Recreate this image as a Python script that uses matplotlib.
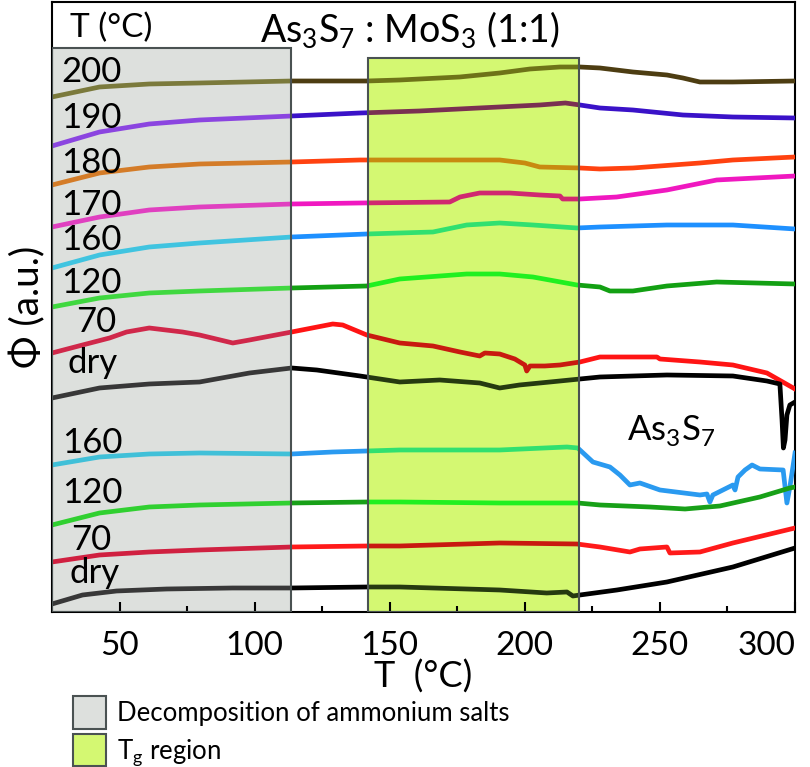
import numpy as np
import matplotlib.pyplot as plt
from matplotlib.patches import Rectangle, Patch

plt.rcParams['font.family'] = ['Lato', 'DejaVu Sans']
plt.rcParams['mathtext.fontset'] = 'custom'
plt.rcParams['mathtext.rm'] = 'Lato'

# temperature ranges of the shaded regions (°C)
decomp_range = [25, 113.6]
tg_range = [142, 220]

# As3S7 : MoS3 (1:1), heat flow (a.u., offset curves)
mo200_t = [25, 42.6, 61, 79.6, 113.7, 141.5, 153.7, 175.9, 190.7, 201.9, 213, 220.4, 227.8, 240, 252.6, 258.5, 264.8, 277, 300]
mo200_phi = [515, 525, 528, 529, 531, 531, 532, 535, 539, 543, 545, 545, 544, 540, 537, 534, 530, 530, 531]
mo190_t = [25, 42.6, 61, 79.6, 113.7, 139, 161, 183, 205.5, 215, 220.4, 227.8, 240, 258.5, 277, 300]
mo190_phi = [466, 480, 488, 492, 496, 499, 501, 504, 507, 509, 507, 504, 502, 497, 495, 494]
mo180_t = [25, 42.6, 61, 79.6, 113.7, 139, 190.7, 200, 205.5, 220.4, 227.8, 240, 264.8, 277, 300]
mo180_phi = [427, 439, 445, 448, 450, 452, 452, 449, 445, 444, 443, 444, 449, 452, 455]
mo170_t = [25, 42.6, 61, 79.6, 113.7, 139, 172.2, 176, 183.3, 194.4, 205.5, 213, 214, 220.4, 234, 252.6, 271, 300]
mo170_phi = [385, 395, 402, 405, 408, 409, 410, 415, 419, 419, 417, 416, 413, 413, 415, 422, 432, 436]
mo160_t = [25, 42.6, 61, 79.6, 113.7, 141.5, 153.7, 166, 178.5, 190.7, 203, 219.3, 227.8, 252.6, 277, 300]
mo160_phi = [344, 357, 365, 369, 375, 378, 379, 380, 387, 389, 387, 384, 385, 387, 387, 383]
mo120_t = [25, 42.6, 61, 79.6, 113.7, 141.5, 153.7, 178.5, 190.7, 203, 219.3, 227.8, 231.5, 240, 252.6, 271, 300]
mo120_phi = [305, 314, 319, 321, 324, 326, 333, 338, 338, 335, 327, 325, 321, 321, 326, 330, 328]
mo70_t = [25, 36.3, 46.3, 52.6, 61, 73.3, 79.6, 91.9, 98.1, 113.7, 128.9, 132.6, 141.5, 153.7, 166, 176, 183.3,
          185.2, 190.7, 196.3, 200, 200.7, 201.9, 207.4, 213, 220.4, 227.8, 248.9, 250, 264.8, 277, 289.6, 300]
mo70_phi = [259, 267, 274, 280, 284, 280, 277, 269, 272, 280, 288, 287, 277, 269, 266, 260, 256,
            259, 258, 253, 247, 241, 246, 246, 247, 250, 255, 255, 253, 250, 247, 239, 223]
modry_t = [25, 42.6, 61, 79.6, 98.1, 113.7, 123, 139, 153.7, 168.5, 183.3, 190.7, 198, 209.3, 220.4, 227.8,
           252.6, 277, 289.6, 294.4, 295.2, 295.7, 296.3, 297, 298.1, 300]
modry_phi = [214, 224, 228, 230, 239, 244, 242, 236, 230, 232, 229, 224, 227, 230, 233, 235,
             237, 236, 231, 228, 192, 164, 172, 197, 207, 210]

# As3S7
as160_t = [25, 42.6, 61, 79.6, 113.7, 128.9, 141.5, 153.7, 190.7, 215.6, 219.6, 225.2, 231.5, 235.2, 238.9, 242.6,
           250, 264.8, 267.4, 268.5, 269.6, 273.3, 277, 277.8, 278.9, 281.5, 284.1, 287, 295.6, 297, 298.1, 300]
as160_phi = [147, 155, 158, 159, 158, 160, 161, 162, 162, 165, 164, 150, 145, 137, 127, 129,
             122, 117, 118, 110, 117, 122, 127, 122, 135, 142, 147, 143, 142, 109, 125, 159]
as120_t = [25, 42.6, 61, 79.6, 113.7, 141.5, 153.7, 190.7, 219.6, 227.8, 246.3, 259.3, 272.2, 287, 298.1, 300]
as120_phi = [87, 99, 105, 107, 109, 110, 110, 109, 109, 107, 105, 103, 106, 115, 124, 125]
as70_t = [25, 42.6, 61, 79.6, 113.7, 141.5, 153.7, 190.7, 219.3, 227.8, 238.9, 242.6, 252.6, 253.7, 264.8, 277, 300]
as70_phi = [50, 57, 60, 62, 65, 66, 66, 69, 68, 65, 60, 63, 65, 59, 60, 69, 84]
asdry_t = [25, 36.3, 48.9, 67.4, 91.9, 113.7, 141.5, 153.7, 190.7, 208.1, 215.6, 217.8, 220.4, 234.1, 252.6, 277, 300]
asdry_phi = [8, 17, 21, 23, 24, 24, 25, 25, 22, 19, 20, 16, 17, 22, 30, 45, 64]

labels = ['200', '190', '180', '170', '160', '120', '70', 'dry', '160', '120', '70', 'dry']
label_t = [28.5, 28.5, 28.5, 28.5, 28.5, 28.5, 34, 30.7, 28.8, 28.8, 32.2, 31.5]
label_phi = [530, 484, 439, 397, 362, 319, 280, 239, 159, 109, 62, 29]

curves = [(mo200_t, mo200_phi), (mo190_t, mo190_phi), (mo180_t, mo180_phi), (mo170_t, mo170_phi),
          (mo160_t, mo160_phi), (mo120_t, mo120_phi), (mo70_t, mo70_phi), (modry_t, modry_phi),
          (as160_t, as160_phi), (as120_t, as120_phi), (as70_t, as70_phi), (asdry_t, asdry_phi)]

# colour of each curve inside the grey box, outside the boxes, inside the yellow box
colors = [('#7b7a3c', '#4d3d12', '#6e7318'),
          ('#8b45e0', '#3a12c8', '#7a3052'),
          ('#d47c28', '#ff4210', '#c88a10'),
          ('#e040c0', '#f018c0', '#d02870'),
          ('#40c4e0', '#1e90ff', '#30e070'),
          ('#40d840', '#13a013', '#20f020'),
          ('#d0284a', '#ff1414', '#c81a10'),
          ('#383838', '#000000', '#263a10'),
          ('#40c0d8', '#2a9af0', '#30e070'),
          ('#30d030', '#18a018', '#20f020'),
          ('#d02040', '#ff1a1a', '#c81a10'),
          ('#383838', '#000000', '#263a10')]

gray_fc = '#dde0dd'
yellow_fc = '#d4f872'
box_ec = '#4a5252'

fig = plt.figure(figsize=(8.1, 7.67), dpi=100)
ax = fig.add_axes([0.0642, 0.2021, 0.9173, 0.7953])
ax.set_xlim(25, 300)
ax.set_ylim(0, 610)

ax.add_patch(Rectangle((decomp_range[0], 0), decomp_range[1] - decomp_range[0], 564,
                       fc=gray_fc, ec='none', zorder=0))
ax.add_patch(Rectangle((tg_range[0], 0), tg_range[1] - tg_range[0], 554,
                       fc=yellow_fc, ec='none', zorder=0))

segments = [(25, decomp_range[1], 0), (decomp_range[1], tg_range[0], 1),
            (tg_range[0], tg_range[1], 2), (tg_range[1], 300, 1)]
for (t, phi), cols in zip(curves, colors):
    for lo, hi, k in segments:
        ln, = ax.plot(t, phi, color=cols[k], lw=3.4, solid_joinstyle='round', zorder=3)
        ln.set_clip_path(Rectangle((lo, -100), hi - lo, 900, transform=ax.transData))

# box outlines on top of the curves
ax.add_patch(Rectangle((decomp_range[0], 0), decomp_range[1] - decomp_range[0], 564,
                       fc='none', ec=box_ec, lw=1.5, zorder=4))
ax.add_patch(Rectangle((tg_range[0], 0), tg_range[1] - tg_range[0], 554,
                       fc='none', ec=box_ec, lw=1.5, zorder=4))

for lab, x, y in zip(labels, label_t, label_phi):
    ax.text(x, y, lab, fontsize=25, ha='left', va='baseline', zorder=5)

ax.text(157.4, 569, r'As$_\mathregular{3}$S$_\mathregular{7}$ : MoS$_\mathregular{3}$ (1:1)',
        fontsize=27, ha='center', va='baseline')
ax.text(31.5, 575, 'T (°C)', fontsize=24, ha='left', va='baseline')
ax.text(238, 172, r'As$_\mathregular{3}$S$_\mathregular{7}$', fontsize=25, ha='left', va='baseline')

ax.set_xticks([50, 100, 150, 200, 250, 300])
ax.set_xticks([75, 125, 175, 225, 275], minor=True)
ax.set_yticks([])
ax.tick_params(axis='x', which='major', direction='in', length=7, width=1.5, labelsize=24, pad=14)
ax.tick_params(axis='x', which='minor', direction='in', length=4.5, width=1.5)
ax.get_xticklabels()[-1].set_ha('right')
for s in ax.spines.values():
    s.set_linewidth(1.5)

ax.set_xlabel('T  (°C)', fontsize=26, labelpad=-1)
ax.set_ylabel('Φ (a.u.)', fontsize=28, labelpad=4)

handles = [Patch(fc=gray_fc, ec=box_ec, lw=1.5), Patch(fc=yellow_fc, ec=box_ec, lw=1.5)]
fig.legend(handles, ['Decomposition of ammonium salts', r'T$_\mathregular{g}$ region'],
           loc='upper left', bbox_to_anchor=(0.09, 0.092), frameon=False, fontsize=18.5,
           handlelength=1.3, handleheight=1.55, labelspacing=0.2, handletextpad=0.4,
           borderpad=0, borderaxespad=0)

fig.savefig('out.png', dpi=100)
